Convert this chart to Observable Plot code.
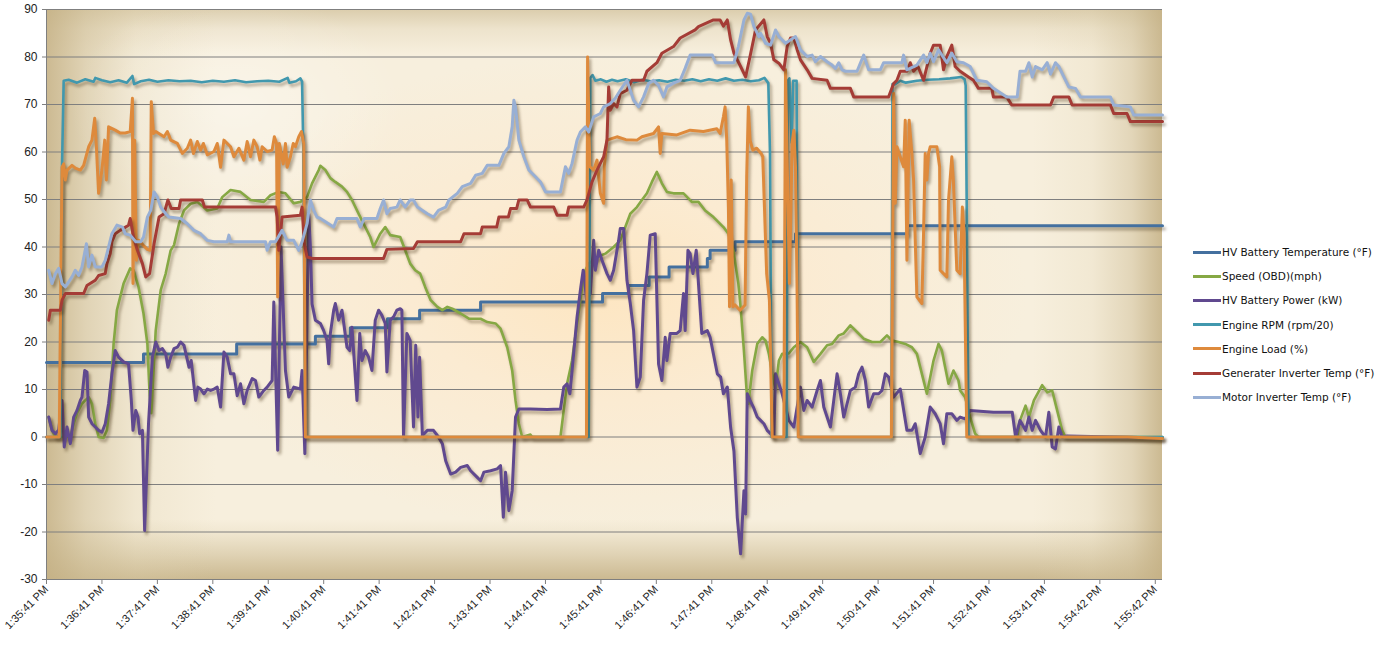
<!DOCTYPE html>
<html>
<head>
<meta charset="utf-8">
<script src="https://cdn.jsdelivr.net/npm/d3@7"></script>
<script src="https://cdn.jsdelivr.net/npm/@observablehq/plot@0.6"></script>
<style>
  html, body { margin: 0; padding: 0; background: #ffffff; }
  #wrap { position: relative; width: 1390px; height: 648px; overflow: hidden; }
  #bg { position: absolute; left: 46px; top: 9px; width: 1116px; height: 570px;
        background:
          linear-gradient(to right, rgba(196,176,132,0.85) 0px, rgba(205,188,148,0.55) 40px, rgba(220,206,170,0.25) 90px, rgba(230,218,190,0) 170px),
          linear-gradient(to left, rgba(196,176,132,0.85) 0px, rgba(205,188,148,0.5) 30px, rgba(220,206,170,0.2) 70px, rgba(230,218,190,0) 130px),
          linear-gradient(to top, rgba(196,176,132,0.85) 0px, rgba(205,188,148,0.55) 25px, rgba(220,206,170,0.2) 48px, rgba(230,218,190,0) 60px),
          linear-gradient(to bottom, rgba(200,182,140,0.6) 0px, rgba(215,200,165,0.3) 20px, rgba(230,218,190,0) 45px),
          radial-gradient(ellipse 38% 42% at 50% 50%, #fde6c2 0%, #fbebd2 45%, #f7efdd 100%);
        background-color: #f6eedb; }
  #bg2 { position: absolute; left: 46px; top: 9px; width: 1116px; height: 570px;
        background: radial-gradient(ellipse 15% 20% at 17% 17%, rgba(255,255,255,0.35), rgba(255,255,255,0)); }
  #chart { position: absolute; left: 0; top: 0; }
  #chart svg path.ln { filter: drop-shadow(2px 3px 1.5px rgba(60,40,10,0.4)); }
  #legend { position: absolute; left: 1193px; top: 240px; font-family: "DejaVu Sans", sans-serif; font-size: 10.5px; color: #111; }
  .row { display: flex; align-items: center; height: 24.2px; }
  .sw { width: 28px; height: 3px; margin-right: 1px; }
</style>
</head>
<body>
<div id="wrap"><div id="bg"></div><div id="bg2"></div><div id="chart"></div><div id="legend"></div></div>
<script>
// ---- Series names, colors ----
const seriesNames = ["HV Battery Temperature (°F)", "Speed (OBD)(mph)", "HV Battery Power (kW)", "Engine RPM (rpm/20)", "Engine Load (%)", "Generater Inverter Temp (°F)", "Motor Inverter Temp (°F)"];
const seriesColors = ["#44709f", "#86a844", "#60498f", "#4198ae", "#de8a3c", "#a53c36", "#98afd4"];

// ---- X tick labels (minutes after 1:35:41 PM) ----
const tickMinutes = d3.range(0, 21);
const tickLabels = ["1:35:41 PM","1:36:41 PM","1:37:41 PM","1:38:41 PM","1:39:41 PM","1:40:41 PM","1:41:41 PM","1:42:41 PM","1:43:41 PM","1:44:41 PM","1:45:41 PM","1:46:41 PM","1:47:41 PM","1:48:41 PM","1:49:41 PM","1:50:41 PM","1:51:41 PM","1:52:41 PM","1:53:41 PM","1:54:42 PM","1:55:42 PM"];
const yTicks = [-30,-20,-10,0,10,20,30,40,50,60,70,80,90];

// ---- Data: [minutes since 1:35:41 PM, value] ----
const hvBatteryTemp = [[0,15.7],[1.75,17.5],[3.43,19.6],[4.85,21.2],[5.48,23.0],[6.15,24.9],[6.73,26.7],[7.83,28.4],[10.03,30.2],[10.50,31.9],[10.87,33.7],[11.23,35.8],[11.92,37.6],[11.97,39.3],[12.42,41.1],[13.51,42.8],[15.53,44.5],[20.13,44.5]];

const speed = [[0.04,4.2],[0.10,1.4],[0.16,0],[0.43,0],[0.49,2.8],[0.55,5],[0.64,7],[0.76,8.4],[0.82,7],[0.88,2.8],[0.94,0],[1.03,-0.2],[1.09,1.4],[1.15,7.7],[1.21,19.6],[1.27,26.7],[1.39,32.3],[1.51,35.5],[1.57,35.1],[1.66,31.6],[1.75,26],[1.82,19.6],[1.86,9],[1.89,5],[1.97,22.4],[2.06,30.9],[2.15,34.4],[2.24,39.3],[2.30,40.4],[2.39,44.9],[2.48,47.7],[2.60,49.1],[2.72,49.5],[2.90,47.7],[3.08,48.1],[3.17,50.5],[3.32,52],[3.50,51.6],[3.68,49.9],[3.92,49.5],[4.04,50.9],[4.19,51.6],[4.31,51.3],[4.46,49.2],[4.58,49.5],[4.70,50.5],[4.79,53.4],[4.91,56.2],[4.94,57.1],[5.03,56.2],[5.12,54.5],[5.21,53.7],[5.33,52.7],[5.42,51.6],[5.51,49.9],[5.63,47],[5.72,44.9],[5.84,42.1],[5.90,40],[6.02,42.8],[6.11,44.2],[6.20,42.5],[6.38,42.1],[6.47,39.3],[6.56,36.5],[6.65,35.1],[6.74,34.4],[6.83,31.6],[6.93,28.8],[7.05,27.4],[7.14,26.7],[7.23,27.4],[7.32,27],[7.47,26],[7.62,24.9],[7.83,24.9],[7.95,24.2],[8.10,23.9],[8.19,22.8],[8.31,18.9],[8.40,14],[8.46,7.7],[8.52,2.8],[8.58,0],[8.73,0.5],[8.76,0],[9.27,0],[9.33,5.6],[9.39,11.2],[9.48,16.1],[9.57,23.9],[9.63,28.8],[9.69,34.4],[9.78,36.5],[9.93,37.9],[10.08,38.6],[10.23,40],[10.35,41.4],[10.44,44.2],[10.53,47],[10.65,48.4],[10.74,49.9],[10.83,51.3],[10.92,53.7],[11.01,55.8],[11.10,53.4],[11.19,51.6],[11.31,51.3],[11.49,51.3],[11.64,49.5],[11.76,49.5],[11.88,47.7],[12.03,46.3],[12.21,44.2],[12.30,42.8],[12.39,39.3],[12.48,32.3],[12.52,27.4],[12.58,18.2],[12.64,7.7],[12.66,7],[12.73,14],[12.82,19.6],[12.91,21],[12.97,20.3],[13.03,17.5],[13.09,13.3],[13.15,10],[13.21,16.1],[13.27,17.5],[13.39,17.6],[13.48,18.9],[13.60,20],[13.72,18.9],[13.84,15.8],[13.96,17.5],[14.08,19.3],[14.17,19.6],[14.29,21.4],[14.38,21.8],[14.50,23.5],[14.62,22.1],[14.74,20.7],[14.89,20],[15.04,20],[15.16,21.4],[15.25,20.3],[15.37,20],[15.49,19.6],[15.61,18.9],[15.70,17.5],[15.79,13.3],[15.88,9.1],[15.94,12.6],[16.00,16.1],[16.09,19.6],[16.15,18.2],[16.21,14.7],[16.27,11.2],[16.36,14],[16.45,11.9],[16.48,9.8],[16.57,8.4],[16.66,4.2],[16.75,0.7],[16.81,0],[17.51,0],[17.56,3.5],[17.66,6.6],[17.72,4.2],[17.81,7.7],[17.96,10.9],[18.05,9.4],[18.14,9.8],[18.23,5.6],[18.32,1.4],[18.38,0],[20.13,0]];

const hvBatteryPower = [[0.04,4.2],[0.10,1.4],[0.16,0.7],[0.22,1.5],[0.28,7.7],[0.32,-2.1],[0.37,2.1],[0.43,-1.4],[0.49,4.2],[0.55,5.6],[0.61,7.7],[0.64,8.4],[0.69,14],[0.73,13.7],[0.76,4.2],[0.82,2.8],[0.88,2.1],[0.94,1.4],[1.00,1],[1.06,2.8],[1.12,7],[1.18,13.3],[1.24,18.2],[1.30,16.8],[1.39,15.8],[1.48,15.4],[1.53,7.7],[1.56,1.4],[1.61,5.6],[1.65,4.2],[1.68,0.7],[1.73,1.4],[1.77,-19.7],[1.80,-9.9],[1.84,2.8],[1.91,16.8],[1.97,20],[2.03,18.2],[2.09,18.6],[2.15,17.5],[2.19,14.7],[2.24,16.8],[2.30,18.6],[2.36,18.9],[2.42,20],[2.48,19.3],[2.57,14.7],[2.61,16.1],[2.69,7.7],[2.73,10.5],[2.78,10.1],[2.84,9.1],[2.90,10.1],[2.96,9.8],[3.02,10.1],[3.08,10.5],[3.14,6.3],[3.20,17.9],[3.26,16.8],[3.32,13.3],[3.38,13.3],[3.44,8.7],[3.50,11.2],[3.56,7],[3.62,9.8],[3.71,12.3],[3.77,11.9],[3.83,8.4],[3.92,9.8],[3.98,10.5],[4.07,11.9],[4.10,28.4],[4.17,-2.8],[4.23,40],[4.31,14],[4.37,8.4],[4.46,10.5],[4.58,10.1],[4.61,14],[4.66,-3.5],[4.73,47],[4.76,40],[4.79,28],[4.85,24.6],[4.94,23.9],[5.00,22.4],[5.06,20.3],[5.09,15.4],[5.12,21.8],[5.18,26.7],[5.21,28.1],[5.27,24.6],[5.33,26.7],[5.42,18.9],[5.47,18.2],[5.51,23.1],[5.60,7.7],[5.65,21.8],[5.69,16.1],[5.75,18.2],[5.81,16.8],[5.87,14],[5.93,24.6],[5.99,26.7],[6.05,25.6],[6.11,23.9],[6.14,13.7],[6.20,24.6],[6.26,25.3],[6.32,26.7],[6.38,27],[6.41,26.7],[6.44,0],[6.50,21.8],[6.56,20.3],[6.62,2.1],[6.66,19.3],[6.70,4.2],[6.73,16.8],[6.78,0.3],[6.87,1.4],[6.98,1.4],[7.07,0],[7.14,-1.4],[7.20,-5],[7.29,-7.8],[7.38,-7.4],[7.47,-6.4],[7.59,-6],[7.65,-7.1],[7.77,-8.5],[7.83,-9.2],[7.89,-7.4],[8.01,-7.1],[8.13,-6.7],[8.19,-6],[8.24,-16.9],[8.28,-7.4],[8.34,-15.5],[8.40,-11.3],[8.46,4.2],[8.52,5.9],[8.73,5.9],[9.03,5.8],[9.27,5.9],[9.33,10.5],[9.39,11.2],[9.44,9.1],[9.48,14],[9.57,25.3],[9.63,30.9],[9.68,35.1],[9.70,34.4],[9.74,28.8],[9.81,30.2],[9.87,41.4],[9.90,35.1],[9.96,39.3],[10.02,37.2],[10.11,34.4],[10.17,33],[10.23,35.1],[10.32,41.4],[10.35,43.9],[10.41,43.9],[10.47,33],[10.53,28.1],[10.59,22.4],[10.65,10.5],[10.71,12.6],[10.77,28.8],[10.83,34.4],[10.89,42.5],[10.98,42.8],[11.04,15.4],[11.10,11.9],[11.16,21],[11.19,16.1],[11.25,21.8],[11.37,21.8],[11.43,22.4],[11.49,30.2],[11.52,22.4],[11.57,39.3],[11.61,38.6],[11.66,34.4],[11.72,39.3],[11.82,21.8],[11.92,22.4],[11.97,21],[12.10,13.3],[12.16,12.6],[12.21,9.1],[12.28,10.5],[12.34,2],[12.40,-3],[12.46,-16.9],[12.52,-24.6],[12.58,-11.3],[12.61,-16.2],[12.64,9.1],[12.69,7.7],[12.75,6.3],[12.82,4.2],[12.88,3.5],[12.94,2.8],[13.00,1.4],[13.06,0.7],[13.12,0],[13.15,13.3],[13.27,9.1],[13.39,3.5],[13.48,2.1],[13.60,10.5],[13.66,5.6],[13.72,7.7],[13.81,6.3],[13.90,9.8],[13.96,11.9],[14.02,6.3],[14.14,2.1],[14.20,7.7],[14.26,13.3],[14.32,9.1],[14.38,4.2],[14.44,7],[14.50,9.8],[14.59,10.5],[14.65,13.3],[14.71,14.7],[14.77,11.9],[14.83,6.3],[14.92,9.1],[15.01,9.1],[15.07,9.8],[15.13,13.3],[15.19,12.6],[15.28,8.4],[15.40,10.1],[15.52,1.4],[15.61,1.4],[15.67,2.8],[15.76,-3.5],[15.85,0],[15.94,6.3],[16.03,4.9],[16.12,2.8],[16.18,-1.4],[16.24,4.9],[16.33,4.9],[16.42,3.5],[16.48,4.2],[16.57,3.8],[16.66,5.6],[17.08,5.2],[17.42,5.2],[17.48,0],[17.56,3.5],[17.66,1.4],[17.72,4.2],[17.78,1.4],[17.84,3.5],[17.93,1.4],[18.02,0],[18.08,5.2],[18.14,-2.1],[18.20,-2.5],[18.26,2.1],[18.32,0],[18.41,0.2],[20.13,-0.2]];

const engineRpm = [[0,0],[0.25,0],[0.28,57],[0.31,75],[0.40,75.2],[0.55,74.6],[0.70,75.3],[0.85,74.8],[0.88,75.6],[1.00,75.1],[1.15,74.7],[1.30,75.1],[1.45,74.6],[1.55,76.0],[1.58,74.3],[1.70,74.9],[1.85,75.2],[2.0,74.8],[2.2,75.1],[2.4,74.9],[2.6,75.0],[2.8,74.7],[3.0,75.0],[3.2,74.8],[3.4,75.1],[3.6,74.7],[3.8,74.9],[4.0,75.0],[4.2,74.8],[4.35,75.6],[4.38,74.6],[4.5,74.9],[4.58,75.5],[4.61,74.8],[4.63,62],[4.67,0],[9.78,0],[9.81,75.6],[9.85,76.2],[9.9,75.0],[10.0,75.3],[10.1,74.8],[10.2,75.2],[10.3,74.9],[10.45,75.3],[10.6,74.7],[10.75,75.2],[10.9,74.9],[11.05,75.1],[11.2,74.8],[11.35,75.2],[11.5,75.0],[11.65,75.3],[11.8,74.9],[11.95,75.3],[12.1,75.0],[12.25,75.5],[12.4,75.0],[12.55,75.2],[12.7,74.9],[12.85,75.1],[12.95,75.6],[13.02,74.5],[13.05,60],[13.08,0],[13.35,0],[13.37,75],[13.40,75.5],[13.44,62],[13.47,75],[13.53,75],[13.56,0],[15.24,0],[15.26,74.3],[15.30,74.2],[15.40,75.0],[15.50,74.6],[15.7,75.0],[15.9,75.2],[16.1,75.3],[16.3,75.5],[16.5,75.8],[16.56,75.3],[16.58,74],[16.60,47],[16.63,0],[20.13,0]];

const engineLoad = [[0,0],[0.23,0],[0.28,56.8],[0.31,57.5],[0.34,54.1],[0.37,56.2],[0.46,57.2],[0.52,56.6],[0.61,56.2],[0.67,57.2],[0.76,61.1],[0.82,62.5],[0.87,67.1],[0.90,61.1],[0.94,51.3],[1.00,56.2],[1.05,62.5],[1.08,54.1],[1.12,65.3],[1.24,64.6],[1.33,64.0],[1.42,64.0],[1.51,64.3],[1.55,71.3],[1.56,32.3],[1.59,62.5],[1.62,37.2],[1.66,41.4],[1.75,40.3],[1.82,39.5],[1.87,39.3],[1.89,70.6],[1.93,63.9],[1.97,64.3],[2.12,63.2],[2.18,64.3],[2.24,62.5],[2.36,61.8],[2.45,59.7],[2.54,60.8],[2.60,62.5],[2.65,59.7],[2.72,62.2],[2.78,60.4],[2.83,61.8],[2.90,59.4],[3.02,60.1],[3.08,61.8],[3.14,56.8],[3.20,62.5],[3.32,61.1],[3.38,59.0],[3.47,60.8],[3.56,58.3],[3.62,62.2],[3.68,59],[3.74,62.5],[3.80,61.1],[3.85,58.3],[3.89,61.1],[3.98,60.1],[4.07,60.4],[4.11,63.2],[4.15,61.8],[4.17,29.5],[4.20,61.8],[4.27,57.5],[4.31,61.8],[4.34,56.8],[4.40,59],[4.45,61.8],[4.49,61.1],[4.55,63.2],[4.60,64.3],[4.64,61.8],[4.67,0],[9.74,0],[9.76,80],[9.80,56.9],[9.87,56.2],[9.93,58.3],[9.99,51.3],[10.05,49.2],[10.06,56.9],[10.11,62.5],[10.29,63.2],[10.45,62.6],[10.65,62.5],[10.74,63.2],[10.95,63.9],[11.04,65.3],[11.07,59.7],[11.10,63.9],[11.37,63.6],[11.61,64.6],[11.85,64.3],[12.09,64.9],[12.15,63.9],[12.21,67.4],[12.24,69.5],[12.27,62.5],[12.30,48.4],[12.32,27.4],[12.35,54.1],[12.38,27.4],[12.42,27.8],[12.51,26.7],[12.60,27.8],[12.63,54.8],[12.66,69.5],[12.69,62.5],[12.74,60.4],[12.81,60.8],[12.89,59.7],[12.92,59],[12.99,34.4],[13.04,28.8],[13.09,0],[13.30,0],[13.33,77.3],[13.36,58.3],[13.40,32.3],[13.43,50],[13.45,62],[13.48,64.6],[13.51,56.9],[13.54,30.2],[13.56,0],[15.24,0],[15.28,72.3],[15.31,49.2],[15.34,61.1],[15.40,59],[15.46,56.9],[15.49,66.7],[15.52,37.2],[15.56,66.7],[15.61,59.6],[15.64,54.1],[15.67,41.4],[15.70,29.5],[15.79,28.1],[15.82,42.9],[15.85,59.7],[15.88,54.1],[15.91,59.7],[15.94,61.1],[16.06,61.1],[16.11,56.9],[16.12,35.1],[16.24,33.7],[16.27,49.8],[16.33,59],[16.36,53.4],[16.42,35.1],[16.48,34.4],[16.52,48.4],[16.55,42.8],[16.60,0],[19.5,0],[20.13,-0.3]];

const generatorInvTemp = [[0.04,24.6],[0.07,26.7],[0.25,26.7],[0.28,28.8],[0.34,30.2],[0.67,30.2],[0.73,31.9],[0.88,33],[0.94,34],[1.06,34.4],[1.09,36.5],[1.15,38.6],[1.18,41.1],[1.24,42.8],[1.33,43.5],[1.48,44.6],[1.51,46],[1.57,42.1],[1.64,39.3],[1.73,36.5],[1.79,33.7],[1.86,34.4],[1.94,40.7],[2.03,46.3],[2.12,47],[2.19,49.9],[2.25,48.1],[2.39,48.1],[2.42,49.9],[2.81,49.9],[2.85,48.4],[4.13,48.4],[4.16,46.3],[4.19,39.3],[4.25,46.3],[4.58,46.7],[4.61,48.4],[4.65,40.7],[4.70,37.9],[4.79,37.6],[6.08,37.6],[6.14,39.5],[6.62,39.7],[6.69,41.1],[7.47,41.1],[7.53,42.8],[7.83,42.8],[7.86,44.2],[8.12,44.2],[8.16,46.3],[8.33,46.3],[8.37,48.1],[8.48,48.1],[8.52,49.9],[8.67,49.9],[8.73,48.4],[9.15,48.4],[9.21,46.7],[9.39,46.7],[9.42,48.4],[9.69,48.4],[9.75,49.9],[9.84,53.7],[9.93,56.2],[9.99,57.6],[10.05,59],[10.11,62.5],[10.14,73.7],[10.17,68.8],[10.23,70.2],[10.29,69.5],[10.35,72.3],[10.47,73],[10.56,75.1],[10.77,75.1],[10.83,77],[11.01,78.8],[11.10,80.8],[11.31,82.2],[11.43,84],[11.70,85.7],[11.76,86.4],[12.03,87.8],[12.15,87.8],[12.21,86.5],[12.28,87.8],[12.34,83.6],[12.40,80.8],[12.52,78],[12.61,75.8],[12.69,80.1],[12.79,85.7],[12.94,87.8],[13.00,84.3],[13.06,82.9],[13.12,79.4],[13.21,78.7],[13.30,77.3],[13.36,82.2],[13.42,84],[13.48,84],[13.54,81.5],[13.60,79.4],[13.72,77.3],[13.81,75.5],[14.08,75.1],[14.14,73.4],[14.50,73.4],[14.56,71.6],[15.19,71.6],[15.28,74.4],[15.34,75.1],[15.40,77],[15.52,77],[15.58,78.8],[15.64,77],[15.72,78],[15.82,75.1],[15.94,80.8],[16.00,82.5],[16.12,82.5],[16.18,77.3],[16.24,80.1],[16.33,82.5],[16.39,78],[16.48,77],[16.63,75.8],[16.72,75.1],[16.81,73.4],[17.05,73.4],[17.08,71.6],[17.32,71.6],[17.41,69.9],[18.11,69.9],[18.17,71.6],[18.44,71.6],[18.50,69.9],[19.19,69.9],[19.25,68.1],[19.49,68.1],[19.55,66.4],[20.13,66.4]];

const motorInvTemp = [[0.04,35.1],[0.10,32.3],[0.16,34.4],[0.22,35.5],[0.28,32.3],[0.34,31.6],[0.46,33.7],[0.52,35.1],[0.58,34],[0.64,35.8],[0.72,40.7],[0.76,35.8],[0.82,38.3],[0.88,35.8],[1.00,35.8],[1.06,37.2],[1.18,42.8],[1.27,44.6],[1.37,44.2],[1.42,42.8],[1.51,42.5],[1.61,41.1],[1.70,41.1],[1.75,42.1],[1.82,46.3],[1.88,47.7],[1.94,51.6],[2.00,50.5],[2.06,48.4],[2.15,47],[2.21,46.3],[2.42,46],[2.54,44.9],[2.66,43.5],[2.78,42.8],[2.90,41.4],[3.02,41.1],[3.26,41.1],[3.29,42.5],[3.32,41.1],[3.95,41.1],[3.98,39.3],[4.04,41.1],[4.13,41.1],[4.25,43.5],[4.34,41.4],[4.46,41.4],[4.55,39.3],[4.61,41.1],[4.70,44.9],[4.76,49.9],[4.82,47.7],[4.88,46.3],[4.94,46],[5.18,44.2],[5.24,46],[5.60,46],[5.66,44.2],[5.73,46],[5.96,46],[6.02,48.1],[6.08,49.9],[6.14,47],[6.20,48.1],[6.32,48.4],[6.38,49.9],[6.47,48.4],[6.56,49.9],[6.62,49.9],[6.69,48.4],[6.87,47],[6.98,46.3],[7.07,47.7],[7.20,48.4],[7.26,49.9],[7.41,51.3],[7.50,52.7],[7.65,53.4],[7.74,55.1],[7.86,55.5],[7.95,57.2],[8.16,57.2],[8.25,59.7],[8.34,61.1],[8.40,65.3],[8.43,70.9],[8.46,69.5],[8.52,62.5],[8.61,59],[8.70,56.2],[8.82,54.8],[8.91,53.7],[9.00,51.6],[9.27,51.6],[9.36,56.9],[9.42,55.5],[9.48,57.6],[9.57,62.5],[9.63,64.2],[9.72,65.3],[9.78,64.2],[9.87,67.4],[9.99,68.1],[10.05,69.5],[10.17,70.2],[10.26,71.3],[10.35,73],[10.47,75.1],[10.53,73],[10.59,70.9],[10.68,69.5],[10.77,71.6],[10.86,74.4],[10.95,75.1],[11.04,74],[11.13,71.6],[11.19,73.7],[11.31,74.5],[11.43,75.1],[11.52,77.6],[11.61,80.4],[12.01,80.4],[12.07,78.8],[12.40,78.8],[12.48,82.2],[12.58,87.8],[12.64,89.2],[12.70,89],[12.76,86.4],[12.85,84.3],[12.88,85],[12.97,82.9],[13.06,82.5],[13.15,85.7],[13.21,84.3],[13.33,82.9],[13.51,84.3],[13.60,81.5],[13.72,80.1],[13.81,80.4],[13.87,79],[13.96,80.1],[14.08,79],[14.17,78.3],[14.23,77.6],[14.29,78.8],[14.35,77.3],[14.41,77],[14.62,77],[14.74,80.4],[14.83,77.3],[15.04,77.3],[15.10,78.8],[15.43,78.8],[15.46,80.4],[15.52,77.3],[15.70,78.3],[15.82,80.4],[15.88,78.8],[15.94,80.8],[16.00,79],[16.09,81.5],[16.24,78.8],[16.33,80.8],[16.42,79],[16.54,78.8],[16.66,78],[16.78,75.1],[16.96,74.8],[17.08,73.4],[17.32,71.6],[17.51,71.6],[17.56,77],[17.66,77],[17.72,78.8],[17.78,75.8],[17.84,78],[17.96,77.3],[18.05,78.8],[18.11,76.4],[18.20,78.8],[18.26,78],[18.35,75.8],[18.44,73.7],[18.56,73.4],[18.65,71.6],[19.19,71.6],[19.25,69.9],[19.55,69.5],[19.61,67.8],[20.13,67.8]];

const seriesData = [hvBatteryTemp, speed, hvBatteryPower, engineRpm, engineLoad, generatorInvTemp, motorInvTemp];
const seriesWidths = [3, 2.6, 3, 2.6, 3, 3, 3];
const seriesCurves = ["step-after", "linear", "linear", "linear", "linear", "linear", "linear"];

const lineMarks = seriesData.map((arr, i) =>
  Plot.line(arr.map(([t, v]) => ({t, v})), {
    x: "t", y: "v", stroke: seriesColors[i], strokeWidth: seriesWidths[i],
    curve: seriesCurves[i], strokeLinejoin: "round", strokeLinecap: "round",
    className: "ln"
  })
);

const chart = Plot.plot({
  width: 1390, height: 648,
  marginLeft: 46, marginRight: 228, marginTop: 9, marginBottom: 69,
  style: {background: "transparent", fontFamily: "'Liberation Sans', Arial, sans-serif", fontSize: "11px", color: "#222"},
  x: {domain: [0, 20.13], label: null},
  y: {domain: [-30, 90], label: null},
  marks: [
    Plot.ruleY(yTicks, {stroke: "#7f7f7f", strokeWidth: 1}),
    Plot.ruleX([0], {stroke: "#7f7f7f", strokeWidth: 1}),
    ...lineMarks,
    Plot.axisY({ticks: yTicks, tickFormat: d => String(d), tickSize: 4, tickPadding: 5, stroke: "#7f7f7f", fill: "#222", fontSize: 12, label: null}),
    Plot.axisX({ticks: tickMinutes, tickFormat: (d, i) => tickLabels[i], tickRotate: -45, tickSize: 5, tickPadding: 3, stroke: "#7f7f7f", fill: "#222", fontSize: 11, label: null})
  ]
});
chart.querySelectorAll("g").forEach(g => {
  if (g.getAttribute("class") && g.getAttribute("class").includes("ln")) g.querySelectorAll("path").forEach(p => p.classList.add("ln"));
});
document.getElementById("chart").appendChild(chart);

const legend = d3.select("#legend");
seriesNames.forEach((name, i) => {
  const row = legend.append("div").attr("class", "row");
  row.append("div").attr("class", "sw").style("background", seriesColors[i]);
  row.append("span").text(name);
});
</script>
</body>
</html>
